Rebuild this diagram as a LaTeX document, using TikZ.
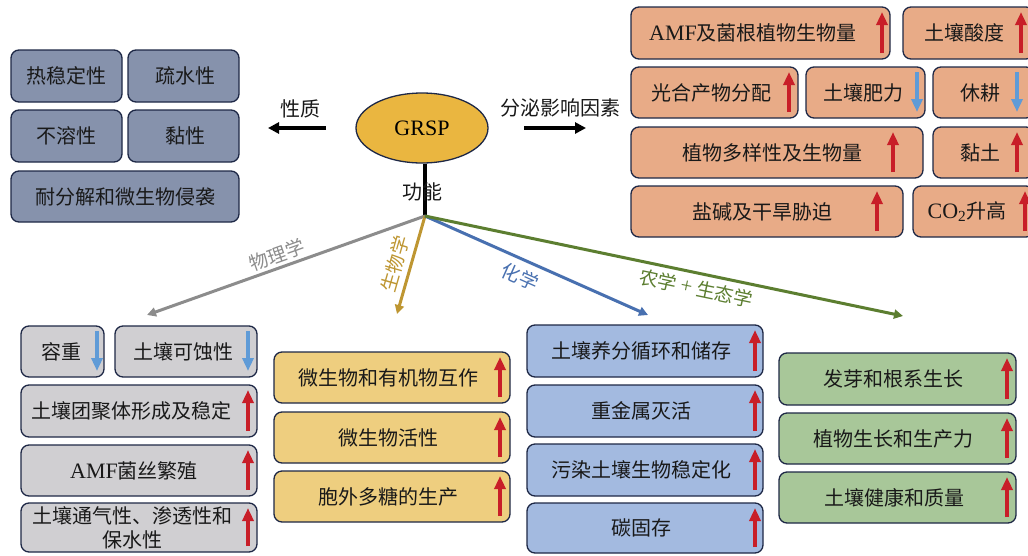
\documentclass[tikz,border=0pt]{standalone}
\usepackage{fontspec}
\setmainfont{Liberation Serif}
\newfontfamily\cjk{Noto Sans CJK SC}
\newfontfamily\latf{Liberation Serif}
\usetikzlibrary{arrows.meta,calc,shapes.geometric}
\definecolor{slatec}{RGB}{134,146,172}
\definecolor{orangec}{RGB}{232,171,135}
\definecolor{grayc}{RGB}{208,207,210}
\definecolor{yellowc}{RGB}{238,206,127}
\definecolor{blueboxc}{RGB}{163,186,224}
\definecolor{greenboxc}{RGB}{168,199,153}
\definecolor{ellc}{RGB}{234,182,64}
\definecolor{bordc}{RGB}{30,40,70}
\definecolor{txtc}{RGB}{25,25,25}
\definecolor{redc}{RGB}{200,30,40}
\definecolor{bluearrc}{RGB}{95,155,215}
\definecolor{lgray}{RGB}{140,140,140}
\definecolor{lgold}{RGB}{190,150,50}
\definecolor{lblue}{RGB}{72,112,176}
\definecolor{lgreen}{RGB}{92,126,48}
\newcommand\lt[1]{{\latf\fontsize{22}{24}\selectfont #1}}
\tikzset{
  box/.style={draw=bordc, line width=1.3pt, rounded corners=8pt, inner sep=0pt},
  slatebox/.style={box, fill=slatec},
  orangebox/.style={box, fill=orangec},
  graybox/.style={box, fill=grayc},
  yellowbox/.style={box, fill=yellowc},
  bluebox/.style={box, fill=blueboxc},
  greenbox/.style={box, fill=greenboxc},
  txt/.style={font=\cjk\fontsize{20}{24}\selectfont, text=txtc, inner sep=0pt, align=center},
  lbl/.style={font=\cjk\fontsize{19}{22}\selectfont, inner sep=0pt},
  uparr/.style={draw=redc, line width=3.3pt, -{Triangle[length=13pt,width=11pt]}},
  dnarr/.style={draw=bluearrc, line width=3.3pt, -{Triangle[length=13pt,width=11pt]}},
  conn/.style={line width=3pt, -{Triangle[length=9pt,width=9pt]}},
  blk/.style={line width=3.5pt, -{Triangle[length=11pt,width=11pt]}},
}
% name, style, x1, y1, x2, y2, text x, text
\newcommand\mybox[8]{%
  \node[#2, minimum width={(#5-#3)*1pt}, minimum height={(#6-#4)*1pt}] (#1) at ({(#3+#5)/2},{(#4+#6)/2}) {};
  \node[txt] (#1-t) at (#7,{(#4+#6)/2}) {#8};
}
% x, box top, box bottom
\newcommand\redup[3]{\draw[uparr] (#1,#3-6) -- (#1,#2+5);}
\newcommand\bluedn[3]{\draw[dnarr] (#1,#2+5) -- (#1,#3-6);}
\begin{document}
\begin{tikzpicture}[x=1pt,y=-1pt]
\useasboundingbox (0,0) rectangle (1028,555);
\fill[white] (0,0) rectangle (1028,555);

% top-left properties
\mybox{a1}{slatebox}{11}{50}{122}{102}{66}{热稳定性}
\mybox{a2}{slatebox}{128}{50}{239}{102}{185}{疏水性}
\mybox{a3}{slatebox}{11}{110}{122}{162}{66}{不溶性}
\mybox{a4}{slatebox}{128}{110}{239}{162}{185}{黏性}
\mybox{a5}{slatebox}{11}{171}{239}{222}{125}{耐分解和微生物侵袭}

% top-right factors
\mybox{b1}{orangebox}{631}{7}{890}{59}{753}{\lt{AMF}及菌根植物生物量}
\redup{882}{7}{59}
\mybox{b2}{orangebox}{903}{7}{1034}{59}{964}{土壤酸度}
\redup{1021}{7}{59}
\mybox{b3}{orangebox}{631}{67}{798}{118}{711}{光合产物分配}
\redup{789}{67}{118}
\mybox{b4}{orangebox}{806}{67}{925}{118}{863}{土壤肥力}
\bluedn{917}{67}{118}
\mybox{b5}{orangebox}{933}{67}{1034}{118}{980}{休耕}
\bluedn{1017}{67}{118}
\mybox{b6}{orangebox}{631}{127}{923}{178}{772}{植物多样性及生物量}
\redup{893}{127}{178}
\mybox{b7}{orangebox}{933}{127}{1034}{178}{980}{黏土}
\redup{1017}{127}{178}
\mybox{b8}{orangebox}{631}{186}{903}{237}{762}{盐碱及干旱胁迫}
\redup{877}{186}{237}
\mybox{b9}{orangebox}{913}{186}{1034}{237}{967}{\lt{CO\textsubscript{2}}升高}
\redup{1025}{186}{237}

% physics
\mybox{c1}{graybox}{21}{326}{104}{377}{61}{容重}
\bluedn{97}{326}{377}
\mybox{c2}{graybox}{115}{326}{257}{377}{183}{土壤可蚀性}
\bluedn{248}{326}{377}
\mybox{c3}{graybox}{21}{385}{257}{437}{131}{土壤团聚体形成及稳定}
\redup{248}{385}{437}
\mybox{c4}{graybox}{21}{445}{257}{496}{134}{\lt{AMF}菌丝繁殖}
\redup{248}{445}{496}
\mybox{c5}{graybox}{21}{503}{257}{552}{132}{土壤通气性、渗透性和\\保水性}
\redup{248}{503}{552}

% biology
\mybox{d1}{yellowbox}{274}{352}{510}{403}{388}{微生物和有机物互作}
\redup{500}{352}{403}
\mybox{d2}{yellowbox}{274}{412}{510}{463}{388}{微生物活性}
\redup{500}{412}{463}
\mybox{d3}{yellowbox}{274}{471}{510}{522}{388}{胞外多糖的生产}
\redup{500}{471}{522}

% chemistry
\mybox{e1}{bluebox}{527}{325}{763}{377}{641}{土壤养分循环和储存}
\redup{755}{325}{377}
\mybox{e2}{bluebox}{527}{385}{763}{437}{641}{重金属灭活}
\redup{755}{385}{437}
\mybox{e3}{bluebox}{527}{444}{763}{496}{641}{污染土壤生物稳定化}
\redup{755}{444}{496}
\mybox{e4}{bluebox}{527}{503}{763}{553}{641}{碳固存}
\redup{755}{503}{553}

% agronomy + ecology
\mybox{f1}{greenbox}{779}{353}{1016}{405}{893}{发芽和根系生长}
\redup{1007}{353}{405}
\mybox{f2}{greenbox}{779}{413}{1016}{464}{893}{植物生长和生产力}
\redup{1007}{413}{464}
\mybox{f3}{greenbox}{779}{472}{1016}{523}{894}{土壤健康和质量}
\redup{1007}{472}{523}

% GRSP
\node[ellipse, draw=bordc, line width=1.3pt, fill=ellc, minimum width=132pt, minimum height=70pt, inner sep=0pt] (g) at (422,128) {\lt{GRSP}};
\coordinate (hub) at (425,216);
\coordinate (propend) at (268,128);
\coordinate (propstart) at (326,128);
\coordinate (facstart) at (524,128);
\coordinate (facend) at (586,128);
\draw[blk] (propstart) -- (propend);
\draw[blk] (facstart) -- (facend);
\node[txt] (lprop) at (300,109) {性质};
\node[txt] (lfac) at (560,108) {分泌影响因素};
\draw[line width=3.5pt] (g.south -| hub) -- (hub);
\node[txt] (lfun) at (422,192) {功能};

\coordinate (ephys) at (147,315);
\coordinate (ebio) at (397,314);
\coordinate (echem) at (648,315);
\coordinate (eagr) at (903,316);
\draw[conn, draw=lgray] (hub) -- (ephys);
\draw[conn, draw=lgold] (hub) -- (ebio);
\draw[conn, draw=lblue] (hub) -- (echem);
\draw[conn, draw=lgreen] (hub) -- (eagr);
\node[lbl, text=lgray, rotate=19.6] (lphys) at (277,255) {物理学};
\node[lbl, text=lgold, rotate=74] (lbio) at (395,264) {生物学};
\node[lbl, text=lblue, rotate=-24] (lchem) at (520,277) {化学};
\node[lbl, text=lgreen, rotate=-11.8] (lagr) at (696,288) {农学 {\latf\fontsize{21}{22}\selectfont +} 生态学};
\end{tikzpicture}
\end{document}
